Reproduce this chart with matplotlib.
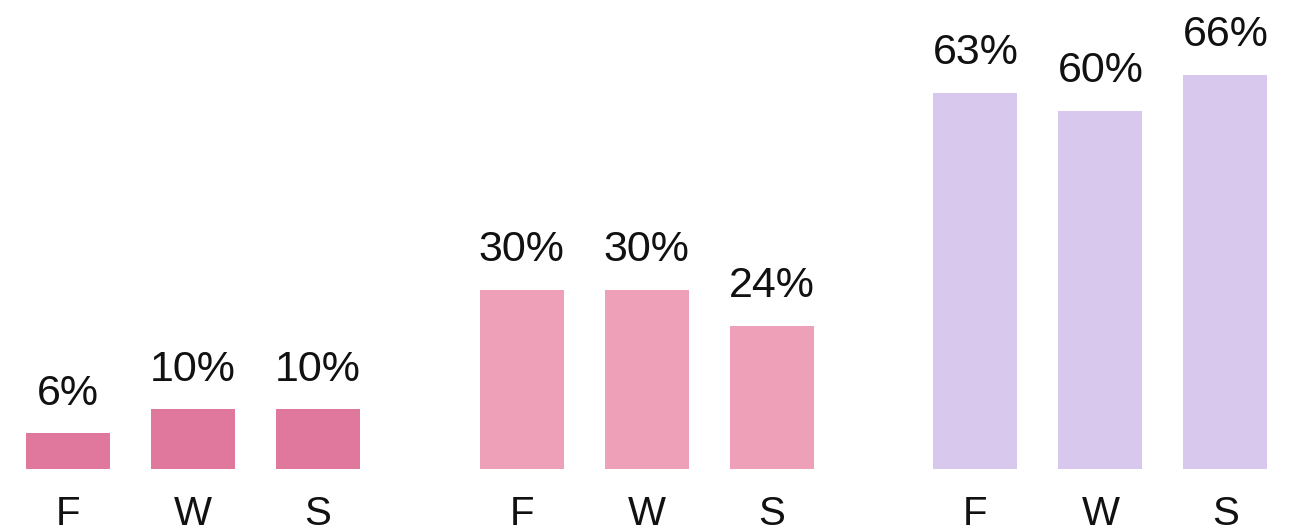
import matplotlib
matplotlib.use("Agg")
import matplotlib.pyplot as plt

# Share of respondents by term (Fall, Winter, Spring) for three groups
seasons = ["F", "W", "S"]
group_a = [6, 10, 10]
group_b = [30, 30, 24]
group_c = [63, 60, 66]
group_colors = ["#e0779c", "#eea0b8", "#d9c8ee"]

plt.rcParams["font.family"] = ["Liberation Sans", "DejaVu Sans"]

fig = plt.figure(figsize=(12.92, 5.32), dpi=100)
ax = fig.add_axes([0, 63 / 532, 1, 448 / 532])

group_step = 3.63
bar_width = 0.672
positions, labels = [], []
for gi, (vals, color) in enumerate(zip([group_a, group_b, group_c], group_colors)):
    xs = [gi * group_step + i for i in range(len(vals))]
    bars = ax.bar(xs, vals, width=bar_width, color=color)
    ax.bar_label(bars, labels=[f"{v}%" for v in vals], padding=14,
                 fontsize=31, color="#111111")
    positions += xs
    labels += seasons

ax.set_xticks(positions)
ax.set_xticklabels(labels, fontsize=29, color="#111111")
ax.tick_params(axis="x", length=0, pad=18.5)
ax.set_yticks([])
ax.set_xlim(-0.544, 9.792)
ax.set_ylim(0, 75)
for s in ax.spines.values():
    s.set_visible(False)

fig.savefig("out.png", dpi=100)
